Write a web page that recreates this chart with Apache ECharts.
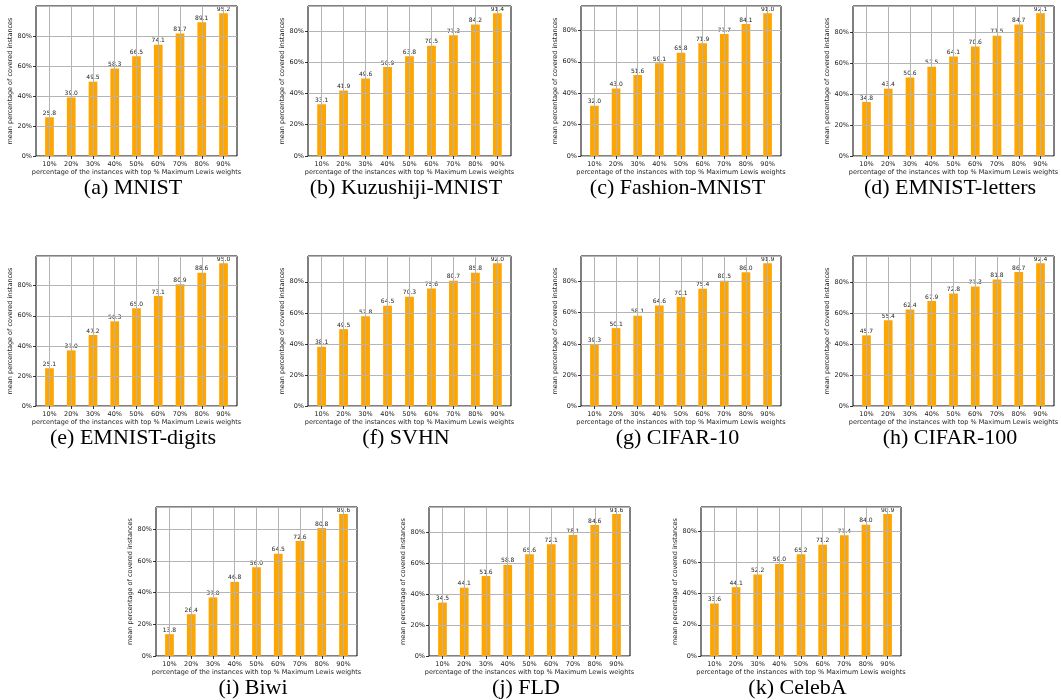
<!DOCTYPE html>
<html>
<head>
<meta charset="utf-8">
<script src="https://cdn.jsdelivr.net/npm/echarts@6/dist/echarts.min.js"></script>
<style>
  html, body { margin: 0; padding: 0; background: #fff; }
  #chart { width: 1061px; height: 700px; }
</style>
</head>
<body>
<div id="chart"></div>
<script>
// x categories: top % of instances by Maximum Lewis weights
const categories = ['10%', '20%', '30%', '40%', '50%', '60%', '70%', '80%', '90%'];

// mean percentage of covered instances, one array per dataset
const mnist = [25.8, 39.0, 49.5, 58.3, 66.5, 74.1, 81.7, 89.1, 95.2];
const kuzushijiMnist = [33.1, 41.9, 49.6, 56.9, 63.8, 70.5, 77.3, 84.2, 91.4];
const fashionMnist = [32.0, 43.0, 51.6, 59.1, 65.8, 71.9, 77.7, 84.1, 91.0];
const emnistLetters = [34.8, 43.4, 50.6, 57.5, 64.1, 70.6, 77.5, 84.7, 92.1];
const emnistDigits = [25.1, 37.0, 47.2, 56.3, 65.0, 73.1, 80.9, 88.6, 95.0];
const svhn = [38.1, 49.5, 57.8, 64.5, 70.3, 75.6, 80.7, 85.8, 92.0];
const cifar10 = [39.3, 50.1, 58.1, 64.6, 70.1, 75.4, 80.5, 86.0, 91.9];
const cifar100 = [45.7, 55.4, 62.4, 67.9, 72.8, 77.3, 81.8, 86.7, 92.4];
const biwi = [13.8, 26.4, 37.0, 46.8, 56.0, 64.5, 72.6, 80.8, 89.6];
const fld = [34.5, 44.1, 51.6, 58.8, 65.6, 72.1, 78.1, 84.6, 91.6];
const celeba = [33.6, 44.1, 52.2, 59.0, 65.2, 71.2, 77.4, 84.0, 90.9];

const captions = ['(a) MNIST', '(b) Kuzushiji-MNIST', '(c) Fashion-MNIST', '(d) EMNIST-letters',
  '(e) EMNIST-digits', '(f) SVHN', '(g) CIFAR-10', '(h) CIFAR-100',
  '(i) Biwi', '(j) FLD', '(k) CelebA'];
const yTickStep = 20;
const xName = 'percentage of the instances with top % Maximum Lewis weights';
const yName = 'mean percentage of covered instances';

const datasets = [mnist, kuzushijiMnist, fashionMnist, emnistLetters, emnistDigits,
  svhn, cifar10, cifar100, biwi, fld, celeba];

// panel boxes (axes frame) in px: left, top, width, height
const boxes = [
  [36, 6, 201, 150], [308, 6, 203, 150], [581, 6, 200, 150], [853, 6, 201, 150],
  [36, 256, 201, 150], [308, 256, 203, 150], [581, 256, 200, 150], [853, 256, 201, 150],
  [156, 507, 201, 149], [429, 507, 201, 149], [701, 507, 200, 149],
];

const FONT = 'DejaVu Sans';
const grid = [];
const xAxis = [];
const yAxis = [];
const series = [];
const title = [];

datasets.forEach((data, i) => {
  const [l, t, w, h] = boxes[i];
  const ymax = Math.max(...data) * 1.05;
  const outer = i * 2;
  const inner = i * 2 + 1;
  // outer grid: frame, y labels, horizontal grid lines
  grid.push({ left: l, top: t, width: w, height: h, show: true, borderColor: '#000', borderWidth: 1, backgroundColor: 'transparent' });
  // inner grid: bar centres from first to last category (matplotlib margins)
  grid.push({ left: l + w * 0.62 / 9.24, top: t, width: w * 8 / 9.24, height: h });

  xAxis.push({ gridIndex: outer, type: 'value', show: false, min: 0, max: 1 });
  xAxis.push({
    gridIndex: inner,
    type: 'category',
    data: categories,
    boundaryGap: false,
    z: 3,
    axisLine: { show: false },
    axisTick: { show: true, length: 3, interval: 0, lineStyle: { color: '#000', width: 0.8 } },
    axisLabel: { interval: 0, margin: 5, fontSize: 6.5, fontFamily: FONT, color: '#222' },
    splitLine: { show: true, interval: 0, lineStyle: { color: '#b4b4b4', width: 1 } },
    name: xName,
    nameLocation: 'middle',
    nameGap: 12,
    nameTextStyle: { fontSize: 6.5, fontFamily: FONT, color: '#222' },
  });

  yAxis.push({
    gridIndex: outer,
    type: 'value',
    min: 0,
    max: ymax,
    interval: yTickStep,
    z: 3,
    axisLine: { show: false },
    axisTick: { show: true, length: 3, lineStyle: { color: '#000', width: 0.8 } },
    axisLabel: {
      margin: 4, fontSize: 6.5, fontFamily: FONT, color: '#222', showMaxLabel: false,
      formatter: (v) => (v % yTickStep === 0 ? v + '%' : ''),
    },
    splitLine: { show: true, lineStyle: { color: '#b4b4b4', width: 1 } },
    name: yName,
    nameLocation: 'middle',
    nameGap: 21,
    nameTextStyle: { fontSize: 6.5, fontFamily: FONT, color: '#222' },
  });
  yAxis.push({ gridIndex: inner, type: 'value', min: 0, max: ymax, show: false });

  series.push({
    type: 'bar',
    xAxisIndex: inner,
    yAxisIndex: inner,
    data,
    barWidth: '40%',
    clip: false,
    itemStyle: { color: '#ffa500' },
    label: {
      show: true,
      position: 'top',
      distance: 1,
      fontSize: 6,
      fontFamily: FONT,
      color: '#222',
      formatter: (p) => p.value.toFixed(1),
    },
  });

  title.push({
    text: captions[i],
    left: l + w / 2 - 3.5,
    top: t + h + 32,
    padding: 0,
    textAlign: 'center',
    textVerticalAlign: 'middle',
    textStyle: { fontFamily: 'Liberation Serif', fontSize: 22, fontWeight: 'normal', color: '#000' },
  });
});

const chart = echarts.init(document.getElementById('chart'), null, { renderer: 'canvas' });
chart.setOption({
  animation: false,
  title,
  grid,
  xAxis,
  yAxis,
  series,
});
</script>
</body>
</html>
